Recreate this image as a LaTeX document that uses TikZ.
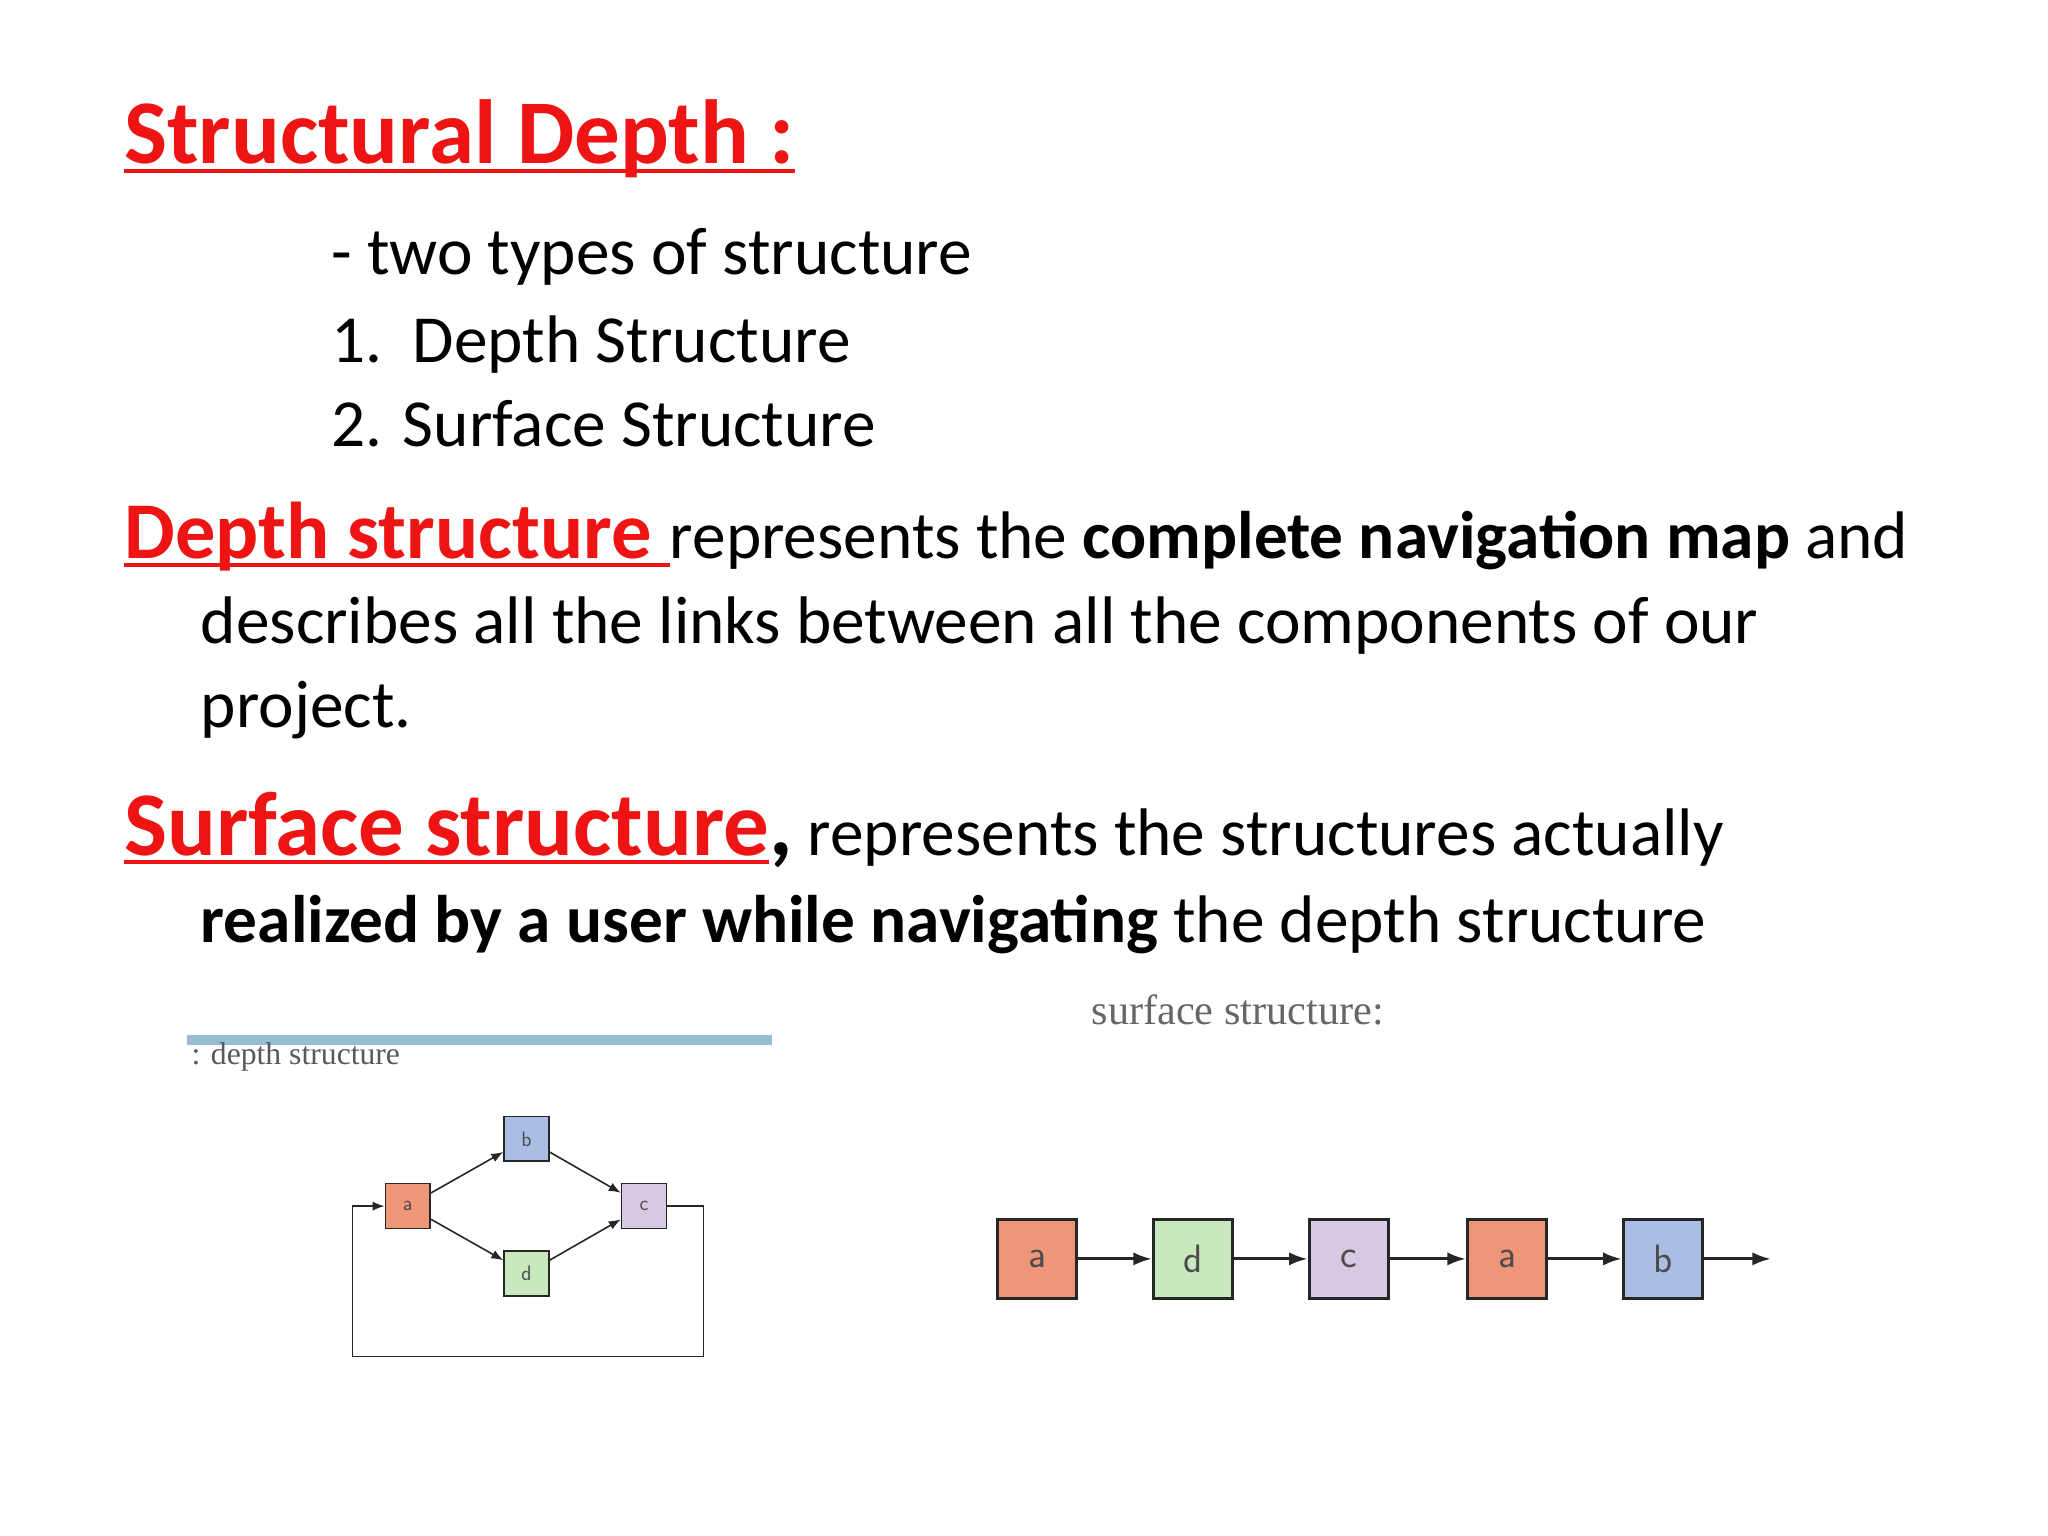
\documentclass[tikz,border=0pt]{standalone}
\usepackage{fontspec}
\setmainfont{Carlito}
\newfontfamily\serf{Liberation Serif}
\usetikzlibrary{arrows.meta}
\definecolor{tred}{RGB}{238,20,20}
\definecolor{cA}{RGB}{240,150,120}
\definecolor{cB}{RGB}{170,190,228}
\definecolor{cC}{RGB}{215,200,228}
\definecolor{cD}{RGB}{200,232,190}
\definecolor{barblue}{RGB}{150,190,215}
\newcommand\myul[1]{\setbox0\hbox{#1}\rlap{\rule[-7pt]{\wd0}{3pt}}\box0}
\begin{document}
\begin{tikzpicture}[x=1pt,y=-1pt,
  txt/.style={anchor=base west,inner sep=0pt,font=\fontsize{51}{57}\selectfont},
  sbox/.style={draw=black!85,line width=1.2pt,minimum size=34pt,inner sep=0pt,font=\fontsize{16}{16}\selectfont\sffamily,text=black!70},
  lbox/.style={draw=black!85,line width=2.2pt,minimum size=60pt,inner sep=0pt,font=\fontsize{30}{30}\selectfont\sffamily,text=black!70},
  sarr/.style={-{Latex[length=9pt,width=7pt]},line width=1.2pt,black!85},
  larr/.style={-{Latex[length=14pt,width=10pt]},line width=2.2pt,black!85}]
\useasboundingbox (0,0) rectangle (1552,1164);
\node[txt,font=\fontsize{69}{74}\selectfont\bfseries,text=tred] (t) at (94,124) {\myul{Structural Depth :}};
\node[txt] (l1) at (251,208) {- two types of structure};
\node[txt] (l2) at (251,275) {1.\ \ Depth Structure};
\node[txt] (l3) at (251,338) {2. Surface Structure};
\node[txt] (p1) at (94,423) {{\fontsize{61}{66}\selectfont\bfseries\color{tred}\myul{Depth structure }}represents the \textbf{complete navigation map} and};
\node[txt] (p2) at (152,488) {describes all the links between all the components of our};
\node[txt] (p3) at (152,551) {project.};
\node[txt] (s1) at (94,648) {{\fontsize{69}{74}\selectfont\bfseries\color{tred}\myul{Surface structure}}{\fontsize{69}{74}\selectfont\bfseries,} represents the structures actually};
\node[txt] (s2) at (152,714) {\textbf{realized by a user while navigating} the depth structure};
% depth diagram
\fill[barblue] (142,784) rectangle (585,792);
\node[anchor=base west,inner sep=0pt,font=\serf\fontsize{24}{24}\selectfont,text=black!65] (dl) at (145,807) {: depth structure};
\node[sbox,fill=cA] (a) at (309,914) {a};
\node[sbox,fill=cB] (b) at (399,863) {b};
\node[sbox,fill=cC] (c) at (488,914) {c};
\node[sbox,fill=cD] (d) at (399,965) {d};
\draw[sarr] (a) -- (b);
\draw[sarr] (a) -- (d);
\draw[sarr] (b) -- (c);
\draw[sarr] (d) -- (c);
\draw[sarr] (c.east) -- (533,914) -- (533,1028) -- (267,1028) -- (267,914) -- (a.west);
% surface diagram
\node[anchor=base,inner sep=0pt,font=\serf\fontsize{32}{32}\selectfont,text=black!60] (sl) at (938,776) {surface structure:};
\node[lbox,fill=cA] (a1) at (786,954) {a};
\node[lbox,fill=cD] (d1) at (904,954) {d};
\node[lbox,fill=cC] (c1) at (1022,954) {c};
\node[lbox,fill=cA] (a2) at (1142,954) {a};
\node[lbox,fill=cB] (b1) at (1260,954) {b};
\coordinate (e) at (1342,954);
\draw[larr] (a1) -- (d1);
\draw[larr] (d1) -- (c1);
\draw[larr] (c1) -- (a2);
\draw[larr] (a2) -- (b1);
\draw[larr] (b1) -- (e);
\end{tikzpicture}
\end{document}
